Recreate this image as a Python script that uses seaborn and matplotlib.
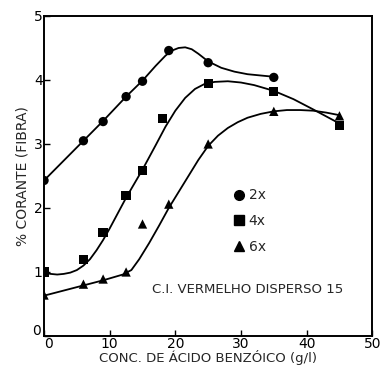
import matplotlib
matplotlib.use("Agg")
import matplotlib.pyplot as plt
import matplotlib.transforms as mtransforms
from matplotlib.lines import Line2D
import seaborn as sns
import pandas as pd

# measured points
x_2x = [0, 6, 9, 12.5, 15, 19, 25, 35]
y_2x = [2.43, 3.05, 3.35, 3.74, 3.98, 4.46, 4.27, 4.04]
x_4x = [0, 6, 9, 12.5, 15, 18, 25, 35, 45]
y_4x = [1.0, 1.19, 1.62, 2.2, 2.59, 3.4, 3.95, 3.82, 3.29]
x_6x = [0, 6, 9, 12.5, 15, 19, 25, 35, 45]
y_6x = [0.64, 0.81, 0.89, 1.0, 1.75, 2.06, 3.0, 3.51, 3.44]

# hand-drawn fitted curves
cx_2x = [0, 6, 9, 12.5, 15, 17, 18.5, 19.5, 20.5, 21.5, 22.5, 23.5, 25, 27, 29, 31, 33, 35]
cy_2x = [2.43, 3.05, 3.36, 3.74, 3.99, 4.22, 4.38, 4.46, 4.50, 4.51, 4.48, 4.41, 4.29, 4.19, 4.13, 4.09, 4.07, 4.05]
cx_4x = [0, 1, 2, 3, 4, 5, 6, 7, 8, 9, 10, 12.5, 15, 17, 18.5, 20, 21.5, 23, 24.5, 26, 28, 30, 32, 35, 38, 41, 45]
cy_4x = [0.99, 0.97, 0.96, 0.97, 0.99, 1.03, 1.1, 1.2, 1.34, 1.5, 1.68, 2.16, 2.6, 2.98, 3.27, 3.52, 3.72, 3.86, 3.94, 3.97, 3.98, 3.96, 3.92, 3.83, 3.7, 3.54, 3.32]
cx_6x = [0, 3, 6, 9, 12, 13.3, 14.5, 16, 17.5, 19, 20.5, 22, 23.5, 25, 26.5, 28, 29.5, 31, 33, 35, 37, 39, 41, 43, 45]
cy_6x = [0.63, 0.71, 0.79, 0.87, 0.96, 1.03, 1.2, 1.45, 1.72, 2.0, 2.25, 2.5, 2.75, 2.97, 3.13, 3.25, 3.34, 3.41, 3.47, 3.51, 3.53, 3.53, 3.52, 3.49, 3.45]

series = ["2x", "4x", "6x"]
markers = {"2x": "o", "4x": "s", "6x": "^"}

pts = pd.concat([
    pd.DataFrame({"x": x_2x, "y": y_2x, "s": "2x"}),
    pd.DataFrame({"x": x_4x, "y": y_4x, "s": "4x"}),
    pd.DataFrame({"x": x_6x, "y": y_6x, "s": "6x"}),
])
curves = pd.concat([
    pd.DataFrame({"x": cx_2x, "y": cy_2x, "s": "2x"}),
    pd.DataFrame({"x": cx_4x, "y": cy_4x, "s": "4x"}),
    pd.DataFrame({"x": cx_6x, "y": cy_6x, "s": "6x"}),
])

sns.set_style("ticks")
plt.rcParams['font.family'] = ['DejaVu Sans']

fig = plt.figure(figsize=(3.83, 3.67), dpi=100)
ax = fig.add_axes([0.115, 0.0845, 0.857, 0.872])

for s in series:
    d = curves[curves.s == s]
    sns.lineplot(data=d, x="x", y="y", ax=ax, color="black", lw=1.3, sort=False, estimator=None)
sns.scatterplot(data=pts, x="x", y="y", style="s", markers=markers, color="black",
                s=45, edgecolor="black", linewidth=0, ax=ax, legend=False)

ax.set_xlim(0, 50)
ax.set_ylim(0, 5)
ax.set_xticks([0, 10, 20, 30, 40, 50])
ax.set_yticks([0, 1, 2, 3, 4, 5])
ax.tick_params(direction="in", length=4, width=1, labelsize=10, colors="black", pad=1)
for sp in ax.spines.values():
    sp.set_visible(True)
    sp.set_linewidth(1.4)
    sp.set_color("black")

ax.set_xlabel("CONC. DE ÁCIDO BENZÓICO (g/l)", fontsize=9.5, labelpad=-1)
ax.set_ylabel("% CORANTE (FIBRA)", fontsize=10, labelpad=2)

# offset the two corner zeros apart, as in the reference
fig.canvas.draw()
xl0 = ax.get_xticklabels()[0]
xl0.set_transform(xl0.get_transform() + mtransforms.ScaledTranslation(4 / 100, 0, fig.dpi_scale_trans))
yl0 = ax.get_yticklabels()[0]
yl0.set_transform(yl0.get_transform() + mtransforms.ScaledTranslation(-2 / 100, 6 / 100, fig.dpi_scale_trans))

handles = [Line2D([], [], marker=markers[s], color="black", linestyle="None", markersize=7) for s in series]
ax.legend(handles, series, frameon=False, loc="upper left", bbox_to_anchor=(0.53, 0.5),
          handletextpad=0.1, labelspacing=0.85, fontsize=10, handlelength=1.2)

ax.text(0.33, 0.145, "C.I. VERMELHO DISPERSO 15", transform=ax.transAxes, fontsize=9.5,
        ha="left", va="center")

fig.savefig("out.png", dpi=100)
